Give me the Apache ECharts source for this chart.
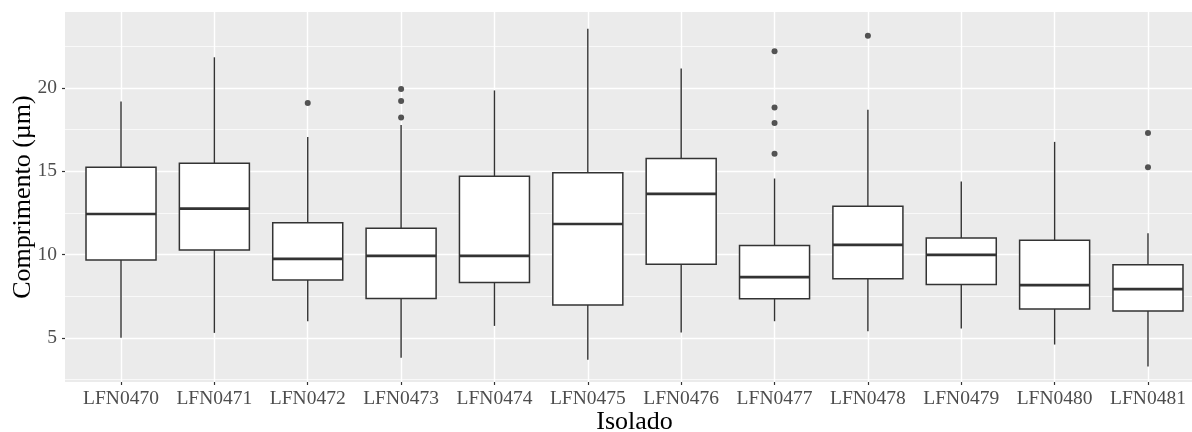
<!DOCTYPE html>
<html>
<head>
<meta charset="utf-8">
<script src="https://cdn.jsdelivr.net/npm/echarts@6/dist/echarts.min.js"></script>
<style>
  html, body { margin: 0; padding: 0; background: #ffffff; }
  #chart { width: 1192px; height: 432px; }
</style>
</head>
<body>
<div id="chart"></div>
<script>
// ---- data ----
const categories = ['LFN0470','LFN0471','LFN0472','LFN0473','LFN0474','LFN0475','LFN0476','LFN0477','LFN0478','LFN0479','LFN0480','LFN0481'];
const whiskerLow  = [5.00, 5.30, 6.00, 3.80, 5.72, 3.68, 5.32, 6.00, 5.40, 5.57, 4.60, 3.28];
const q1          = [9.67, 10.28, 8.47, 7.37, 8.33, 6.97, 9.42, 7.35, 8.55, 8.21, 6.74, 6.61];
const medians     = [12.44, 12.76, 9.74, 9.92, 9.92, 11.84, 13.65, 8.65, 10.58, 9.98, 8.17, 7.93];
const q3          = [15.25, 15.49, 11.92, 11.58, 14.71, 14.91, 15.77, 10.54, 12.91, 11.00, 10.86, 9.39];
const whiskerHigh = [19.20, 21.85, 17.06, 17.78, 19.86, 23.56, 21.17, 14.57, 18.70, 14.39, 16.77, 11.28];
const outliers = [
  ['LFN0472', 19.10],
  ['LFN0473', 19.95], ['LFN0473', 19.22], ['LFN0473', 18.24],
  ['LFN0477', 22.21], ['LFN0477', 18.84], ['LFN0477', 17.90], ['LFN0477', 16.05],
  ['LFN0478', 23.15],
  ['LFN0481', 17.30], ['LFN0481', 15.25]
];
const yMajorTicks = [5, 10, 15, 20];
const yMinorTicks = [2.5, 7.5, 12.5, 17.5, 22.5];

// ---- build option ----
const catIndex = categories.map((c, i) => i);
const boxData = categories.map((c, i) => [i, whiskerLow[i], q1[i], medians[i], q3[i], whiskerHigh[i]]);
const outlierData = outliers.map(o => [categories.indexOf(o[0]), o[1]]);

const BOX_FRAC = 0.75;
const LINE = '#333333';
const FONT = 'Liberation Serif';

function renderBox(params, api) {
  const x = api.value(0);
  const lo = api.coord([x, api.value(1)]);
  const a = api.coord([x, api.value(2)]);
  const m = api.coord([x, api.value(3)]);
  const b = api.coord([x, api.value(4)]);
  const hi = api.coord([x, api.value(5)]);
  const w = api.size([1, 0])[0] * BOX_FRAC;
  const cx = a[0];
  return {
    type: 'group',
    children: [
      { type: 'line', shape: { x1: cx, y1: hi[1], x2: cx, y2: b[1] }, style: { stroke: LINE, lineWidth: 1.4 } },
      { type: 'line', shape: { x1: cx, y1: a[1], x2: cx, y2: lo[1] }, style: { stroke: LINE, lineWidth: 1.4 } },
      { type: 'rect', shape: { x: cx - w / 2, y: b[1], width: w, height: a[1] - b[1] },
        style: { fill: '#ffffff', stroke: LINE, lineWidth: 1.5 } },
      { type: 'line', shape: { x1: cx - w / 2, y1: m[1], x2: cx + w / 2, y2: m[1] }, style: { stroke: LINE, lineWidth: 2.7 } }
    ]
  };
}

const chart = echarts.init(document.getElementById('chart'), null, { renderer: 'canvas' });
chart.setOption({
  animation: false,
  backgroundColor: '#ffffff',
  grid: {
    left: 65, right: -12, top: 12, bottom: 50,
    outerBoundsMode: 'none',
    containLabel: false,
    show: true, backgroundColor: '#EBEBEB', borderWidth: 0
  },
  xAxis: {
    type: 'value',
    min: -0.6, max: 11.6,
    name: 'Isolado',
    nameLocation: 'middle',
    nameGap: 27,
    nameMoveOverlap: false,
    nameTextStyle: { fontFamily: FONT, fontSize: 26, color: '#000000' },
    axisLine: { show: false, onZero: false },
    axisTick: { show: true, customValues: catIndex, length: 3, lineStyle: { color: LINE, width: 1.2 } },
    axisLabel: {
      customValues: catIndex,
      formatter: v => categories[Math.round(v)] || '',
      fontFamily: FONT, fontSize: 19.5, color: '#4D4D4D', margin: 7
    },
    splitLine: { show: true, lineStyle: { color: '#FFFFFF', width: 1.4 } },
    minorSplitLine: { show: false }
  },
  yAxis: [
    {
      type: 'value',
      min: 2.35, max: 24.57,
      name: 'Comprimento (µm)',
      nameLocation: 'middle',
      nameGap: 29,
      nameMoveOverlap: false,
      nameTextStyle: { fontFamily: FONT, fontSize: 26, color: '#000000' },
      axisLine: { show: false, onZero: false },
      axisTick: { show: true, customValues: yMajorTicks, length: 3, lineStyle: { color: LINE, width: 1.2 } },
      axisLabel: { customValues: yMajorTicks, fontFamily: FONT, fontSize: 19.5, color: '#4D4D4D', margin: 8 },
      splitLine: { show: true, lineStyle: { color: '#FFFFFF', width: 1.4 } }
    },
    {
      type: 'value',
      position: 'left',
      offset: 0,
      min: 2.35, max: 24.57,
      axisLine: { show: false, onZero: false },
      axisTick: { show: false, customValues: yMinorTicks },
      axisLabel: { show: false, customValues: yMinorTicks },
      splitLine: { show: true, lineStyle: { color: '#FFFFFF', width: 0.7 } }
    }
  ],
  series: [
    {
      type: 'custom',
      renderItem: renderBox,
      data: boxData,
      encode: { x: 0, y: [1, 2, 3, 4, 5] },
      clip: false,
      z: 3
    },
    {
      type: 'scatter',
      data: outlierData,
      symbol: 'circle',
      symbolSize: 6,
      itemStyle: { color: '#2b2b2b' },
      clip: false,
      z: 4
    }
  ]
});
</script>
</body>
</html>
